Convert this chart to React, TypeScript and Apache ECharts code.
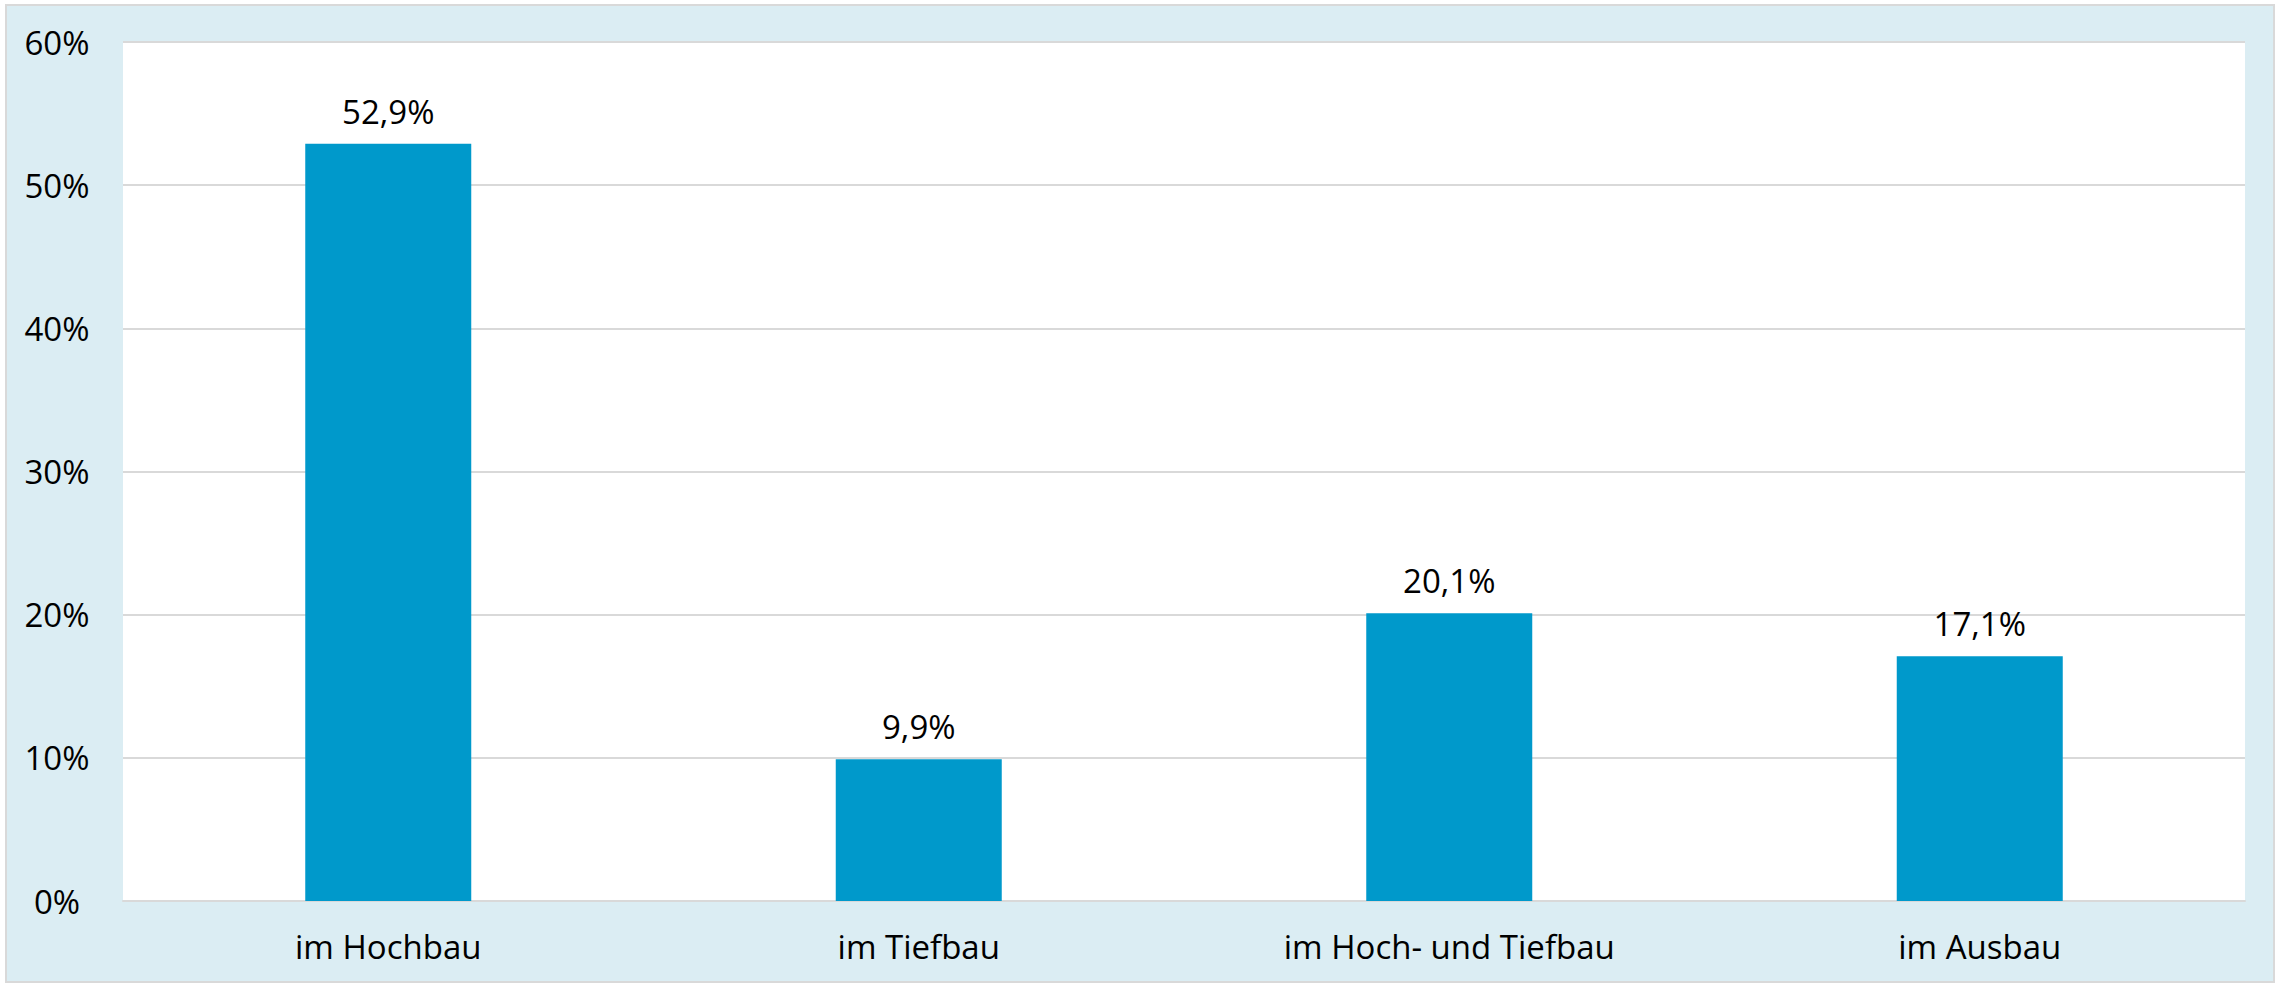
import React, { useEffect, useRef } from "react";
import * as echarts from "echarts";

const categories = ["im Hochbau", "im Tiefbau", "im Hoch- und Tiefbau", "im Ausbau"];
const values = [52.9, 9.9, 20.1, 17.1];
const yTicks = [0, 10, 20, 30, 40, 50, 60];

const FONT = "'Open Sans', sans-serif";

export default function App() {
  const ref = useRef<HTMLDivElement>(null);
  useEffect(() => {
    if (!ref.current) return;
    const chart = echarts.init(ref.current, undefined, { renderer: "svg" });
    chart.setOption({
      animation: false,
      backgroundColor: "#ffffff",
      graphic: [
        {
          type: "rect",
          z: -10,
          silent: true,
          shape: { x: 6, y: 5, width: 2268, height: 977 },
          style: { fill: "#DBEDF3", stroke: "#D9D9D9", lineWidth: 2 },
        },
      ],
      grid: {
        left: 123,
        right: 37,
        top: 42,
        bottom: 83,
        show: true,
        backgroundColor: "#ffffff",
        borderWidth: 0,
      },
      xAxis: {
        type: "category",
        data: categories,
        axisLine: { show: true, lineStyle: { color: "#D9D9D9", width: 2 } },
        axisTick: { show: false },
        axisLabel: {
          color: "#000000",
          fontFamily: FONT,
          fontSize: 33,
          margin: 29,
        },
      },
      yAxis: {
        type: "value",
        min: yTicks[0],
        max: yTicks[yTicks.length - 1],
        interval: 10,
        axisLine: { show: false },
        axisTick: { show: false },
        splitLine: { lineStyle: { color: "#D9D9D9", width: 2 } },
        axisLabel: {
          color: "#000000",
          fontFamily: FONT,
          fontSize: 33,
          align: "center",
          margin: 66,
          formatter: (v: number) => `${v}%`,
        },
      },
      series: [
        {
          type: "bar",
          data: values,
          barWidth: 166,
          itemStyle: { color: "#0099CB" },
          label: {
            show: true,
            position: "top",
            distance: 16,
            color: "#000000",
            fontFamily: FONT,
            fontSize: 33,
            formatter: (p: any) => `${p.value.toFixed(1).replace(".", ",")}%`,
          },
        },
      ],
    });
    return () => chart.dispose();
  }, []);
  return (
    <div
      ref={ref}
      style={{ position: "absolute", left: 0, top: 0, width: 2282, height: 984 }}
    />
  );
}
